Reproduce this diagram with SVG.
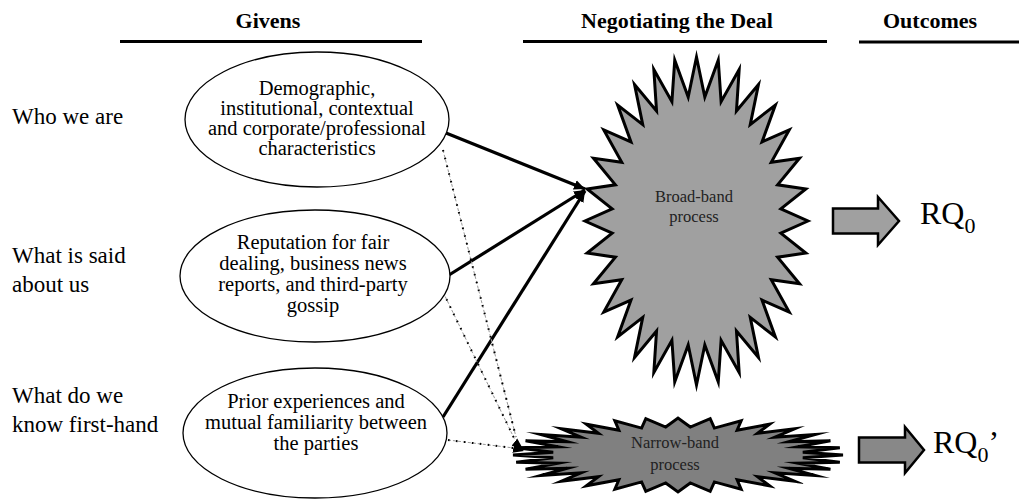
<svg xmlns="http://www.w3.org/2000/svg" width="1019" height="500" viewBox="0 0 1019 500">
<style>
.hdr{font-family:"Liberation Serif","Times New Roman",serif;font-weight:bold;font-size:22px;text-anchor:middle;fill:#000}
.hline{stroke:#000;stroke-width:3}
.lbl{font-family:"Liberation Serif","Times New Roman",serif;font-size:23px;fill:#000}
.etxt{font-family:"Liberation Serif","Times New Roman",serif;font-size:20.5px;text-anchor:middle;fill:#000}
.ell{fill:#fff;stroke:#000;stroke-width:1.3}
.star{stroke:#000;stroke-width:3;stroke-linejoin:miter;stroke-miterlimit:10}
.stxt{font-family:"Liberation Serif","Times New Roman",serif;font-size:16.5px;text-anchor:middle;fill:#222}
.solid{stroke:#000;stroke-width:3.2;fill:none}
.dotg{stroke:#999;stroke-width:1;stroke-dasharray:3 2;fill:none}
.dotb{stroke:#000;stroke-width:2;stroke-dasharray:1.6 6.4;fill:none}
.barrow{stroke:#000;stroke-width:2.5;stroke-linejoin:miter}
.rq{font-family:"Liberation Serif","Times New Roman",serif;font-size:32px;fill:#000}
</style>
<defs>
<path id="starshape" vector-effect="non-scaling-stroke" d="M100,0 L75.63,7.45 98.08,19.51 72.73,22.06 92.39,38.27 67.03,35.83 83.15,55.56 58.75,48.21 70.71,70.71 48.21,58.75 55.56,83.15 35.83,67.03 38.27,92.39 22.06,72.73 19.51,98.08 7.45,75.63 0,100 -7.45,75.63 -19.51,98.08 -22.06,72.73 -38.27,92.39 -35.83,67.03 -55.56,83.15 -48.21,58.75 -70.71,70.71 -58.75,48.21 -83.15,55.56 -67.03,35.83 -92.39,38.27 -72.73,22.06 -98.08,19.51 -75.63,7.45 -100,0 -75.63,-7.45 -98.08,-19.51 -72.73,-22.06 -92.39,-38.27 -67.03,-35.83 -83.15,-55.56 -58.75,-48.21 -70.71,-70.71 -48.21,-58.75 -55.56,-83.15 -35.83,-67.03 -38.27,-92.39 -22.06,-72.73 -19.51,-98.08 -7.45,-75.63 0,-100 7.45,-75.63 19.51,-98.08 22.06,-72.73 38.27,-92.39 35.83,-67.03 55.56,-83.15 48.21,-58.75 70.71,-70.71 58.75,-48.21 83.15,-55.56 67.03,-35.83 92.39,-38.27 72.73,-22.06 98.08,-19.51 75.63,-7.45 Z"/>
<marker id="ahead" markerUnits="userSpaceOnUse" markerWidth="12" markerHeight="12" refX="11" refY="6" orient="auto">
<path d="M0,1 L11,6 L0,11 Z" fill="#000"/>
</marker>
<marker id="dhead" markerUnits="userSpaceOnUse" markerWidth="12" markerHeight="12" refX="11" refY="6" orient="auto">
<path d="M0,1.5 L11,6 L0,10.5 Z" fill="#000"/>
</marker>
</defs>
<rect width="1019" height="500" fill="#fff"/>

<g id="headers">
<text class="hdr" x="268" y="28">Givens</text>
<line class="hline" x1="120" y1="41.5" x2="422" y2="41.5"/>
<text class="hdr" x="677" y="28">Negotiating the Deal</text>
<line class="hline" x1="523" y1="41.5" x2="827" y2="41.5"/>
<text class="hdr" x="930" y="28">Outcomes</text>
<line class="hline" x1="859" y1="42" x2="1019" y2="42"/>
</g>

<g id="row-labels">
<text class="lbl" x="12" y="124">Who we are</text>
<text class="lbl" x="12" y="263">What is said</text>
<text class="lbl" x="12" y="292">about us</text>
<text class="lbl" x="12" y="403">What do we</text>
<text class="lbl" x="12" y="432">know first-hand</text>
</g>

<g id="connectors">
<line class="solid" x1="446" y1="133" x2="585" y2="189" marker-end="url(#ahead)"/>
<line class="solid" x1="449" y1="275" x2="585" y2="190" marker-end="url(#ahead)"/>
<line class="solid" x1="443" y1="417" x2="585" y2="191" marker-end="url(#ahead)"/>
<line class="dotg" x1="443" y1="150" x2="516" y2="437"/>
<line class="dotb" x1="443" y1="150" x2="516" y2="437"/>
<line class="dotg" x1="443" y1="292" x2="515" y2="440"/>
<line class="dotb" x1="443" y1="292" x2="515" y2="440"/>
<line class="dotg" x1="448" y1="440" x2="514" y2="448"/>
<line class="dotb" x1="448" y1="440" x2="514" y2="448"/>
<line stroke="none" x1="503" y1="433" x2="523" y2="449" marker-end="url(#dhead)"/>
<line stroke="none" x1="503" y1="446" x2="524" y2="451" marker-end="url(#dhead)"/>
</g>

<g id="node-demographic">
<ellipse class="ell" cx="317" cy="119.5" rx="132" ry="67.5"/>
<text class="etxt" x="317" y="95">Demographic,</text>
<text class="etxt" x="317" y="115">institutional, contextual</text>
<text class="etxt" x="317" y="135">and corporate/professional</text>
<text class="etxt" x="317" y="155">characteristics</text>
</g>

<g id="node-reputation">
<ellipse class="ell" cx="315" cy="276" rx="135" ry="66"/>
<text class="etxt" x="313" y="249">Reputation for fair</text>
<text class="etxt" x="313" y="270">dealing, business news</text>
<text class="etxt" x="313" y="291">reports, and third-party</text>
<text class="etxt" x="313" y="312">gossip</text>
</g>

<g id="node-experience">
<ellipse class="ell" cx="315" cy="433" rx="132" ry="65"/>
<text class="etxt" x="316" y="408">Prior experiences and</text>
<text class="etxt" x="316" y="429">mutual familiarity between</text>
<text class="etxt" x="316" y="450">the parties</text>
</g>

<g id="node-broadband">
<use href="#starshape" class="star" fill="#a0a0a0" transform="translate(696.5,221) scale(1.115,1.64)"/>
<text class="stxt" x="694" y="202">Broad-band</text>
<text class="stxt" x="694" y="222">process</text>
</g>

<g id="node-narrowband">
<use href="#starshape" class="star" fill="#808080" transform="translate(678,455) scale(1.65,0.37)"/>
<text class="stxt" x="675" y="448">Narrow-band</text>
<text class="stxt" x="675" y="470">process</text>
</g>

<g id="outcome-rq0">
<polygon class="barrow" fill="#a0a0a0" points="833,208.5 878,208.5 878,197 899,221 878,245 878,233.5 833,233.5"/>
<text class="rq" x="920" y="224">RQ<tspan font-size="22" dy="9">0</tspan></text>
</g>

<g id="outcome-rq0prime">
<polygon class="barrow" fill="#888" points="859,437.5 905,437.5 905,427 924,450 905,473 905,462.5 859,462.5"/>
<text class="rq" x="933" y="453">RQ<tspan font-size="22" dy="9">0</tspan><tspan dy="-9">’</tspan></text>
</g>
</svg>
